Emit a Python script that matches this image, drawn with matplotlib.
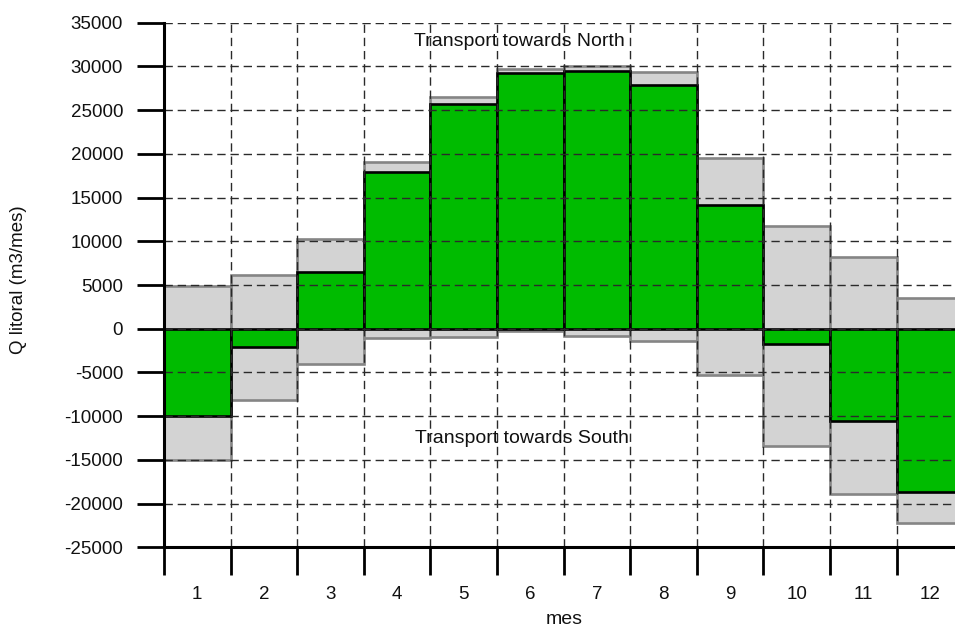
import matplotlib
matplotlib.use("Agg")
import matplotlib.pyplot as plt
import numpy as np

plt.rcParams['font.family'] = ['Liberation Sans', 'DejaVu Sans']

months = [1, 2, 3, 4, 5, 6, 7, 8, 9, 10, 11, 12]
net = [-10000, -2100, 6500, 17900, 25700, 29300, 29450, 27900, 14100, -1750, -10500, -18700]
north = [4900, 6100, 10300, 19050, 26450, 29750, 30050, 29350, 19500, 11700, 8150, 3550]
south = [-15050, -8200, -4000, -1050, -900, -300, -800, -1450, -5350, -13450, -18850, -22250]
yticks = [-25000, -20000, -15000, -10000, -5000, 0, 5000, 10000, 15000, 20000, 25000, 30000, 35000]
text_north = "Transport towards North"
text_south = "Transport towards South"

W, H = 955, 628
fig = plt.figure(figsize=(W / 100, H / 100), dpi=100)
x0, x1 = 164, 963.3
y_top, y_bot = 22.7, 547.3
ax = fig.add_axes([x0 / W, 1 - y_bot / H, (x1 - x0) / W, (y_bot - y_top) / H])

x = np.array(months)
heights_gray = np.array(north) - np.array(south)
ax.bar(x, heights_gray, bottom=south, width=1.0, color='#d3d3d3',
       edgecolor='#858585', linewidth=1.9, zorder=1)
ax.bar(x, net, width=1.0, color='#00bb00', edgecolor='black', linewidth=1.9, zorder=1.5)

ax.set_xlim(0.5, 12.5)
ax.set_ylim(-25000, 35000)
ax.set_yticks(yticks)
ax.set_yticklabels([str(v) for v in yticks])
ax.set_xticks(months)
ax.set_xticklabels([str(m) for m in months])
ax.set_xticks(np.arange(0.5, 13, 1.0), minor=True)

ax.tick_params(axis='x', which='major', length=0, pad=28, labelsize=13.5, colors='#111111')
ax.tick_params(axis='x', which='minor', length=20, width=2.0, color='black', direction='out')
ax.tick_params(axis='y', which='major', length=19.5, width=2.0, color='black', pad=10,
               labelsize=13.5, labelcolor='#111111')

for s in ['top', 'right']:
    ax.spines[s].set_visible(False)
for s in ['left', 'bottom']:
    ax.spines[s].set_linewidth(2.2)
    ax.spines[s].set_zorder(5)

dash = (0, (6, 3.5))
ax.set_axisbelow(False)
ax.grid(which='major', axis='y', linestyle=dash, color='#2a2a2a', linewidth=1.0, zorder=3)
for xb in np.arange(1.5, 12.5, 1.0):
    ax.axvline(xb, linestyle=dash, color='#2a2a2a', linewidth=1.0, zorder=3)

ax.text(5.83, 32800, text_north, ha='center', va='center', fontsize=14, color='#111111')
ax.text(5.88, -12500, text_south, ha='center', va='center', fontsize=14, color='#111111')

ax.set_ylabel("Q litoral (m3/mes)", fontsize=13.5, va='center', color='#111111')
ax.yaxis.set_label_coords((18.5 - x0) / (x1 - x0), (y_bot - 280) / (y_bot - y_top))
ax.set_xlabel("mes", fontsize=14, va='center', color='#111111')
ax.xaxis.set_label_coords((564 - x0) / (x1 - x0), (y_bot - 619) / (y_bot - y_top))

fig.savefig("out.png", dpi=100)
